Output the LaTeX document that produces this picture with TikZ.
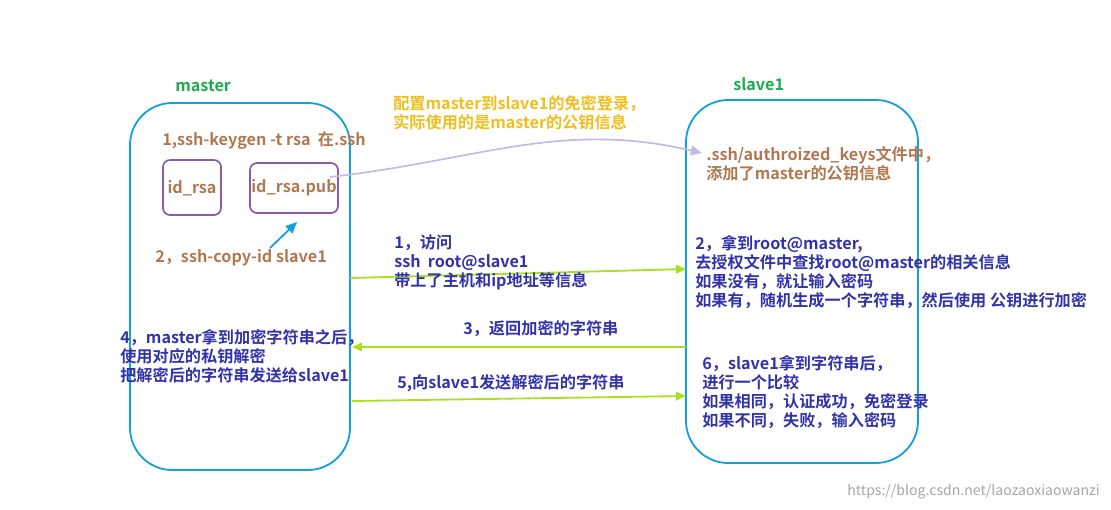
\documentclass[tikz,border=0pt]{standalone}
\usepackage{fontspec}
\setmainfont{Noto Sans CJK SC}[BoldFont={Noto Sans CJK SC Bold}]
\usetikzlibrary{arrows.meta}
\definecolor{hostblue}{RGB}{20,160,220}
\definecolor{hostgreen}{RGB}{30,170,80}
\definecolor{keybrown}{RGB}{176,120,80}
\definecolor{noteyellow}{RGB}{240,190,30}
\definecolor{stepblue}{RGB}{50,50,170}
\definecolor{flowgreen}{RGB}{170,225,30}
\definecolor{keypurple}{RGB}{140,90,170}
\definecolor{curvelav}{RGB}{195,185,230}
\tikzset{
  host/.style={draw=hostblue,line width=1.3pt,rounded corners=30pt},
  keybox/.style={draw=keypurple,line width=1.2pt,rounded corners=5pt},
  txt/.style={anchor=north west,align=left,inner sep=0pt,font=\bfseries\fontsize{11.5}{13.6}\selectfont},
  flow/.style={draw=flowgreen,line width=1.3pt,-{Triangle[length=7pt,width=6pt]}}
}
\begin{document}
\begin{tikzpicture}[x=0.025cm,y=-0.025cm]
     \useasboundingbox (0,0) rectangle (1111,509);
     % hosts
     \draw[host] (130,103) rectangle (350,470);
     \draw[host] (686,100) rectangle (918,463);
     \node[txt,text=hostgreen] (mtitle) at (175,80) {master};
     \node[txt,text=hostgreen] (stitle) at (733,77) {slave1};
     % keys
     \node[txt,text=keybrown] (keygen) at (162,131) {1,ssh-keygen -t rsa \ 在.ssh};
     \draw[keybox] (163,160) rectangle (221,215);
     \node[txt,text=keybrown,anchor=center] (idrsa) at (192,188) {id\_rsa};
     \draw[keybox] (250,163) rectangle (338,213);
     \node[txt,text=keybrown,anchor=center] (idpub) at (294,188) {id\_rsa.pub};
     \node[txt,text=keybrown] (copyid) at (155,249) {2，ssh-copy-id slave1};
     \draw[hostblue,line width=1.3pt,-{Triangle[length=8pt,width=7pt]}] (270,248)--(297,222);
     % public key note
     \node[txt,text=noteyellow] (note) at (393,95) {配置master到slave1的免密登录，\\实际使用的是master的公钥信息};
     \coordinate (pubend) at (330,177);
     \coordinate (authend) at (702,153);
     \draw[curvelav,line width=1.2pt,-{Triangle[length=8pt,width=7pt]}] (pubend) .. controls (480,160) and (560,120) .. (authend);
     \node[txt,text=keybrown] (auth) at (706,146) {.ssh/authroized\_keys文件中，\\添加了master的公钥信息};
     % flows
     \coordinate (a1) at (350,278); \coordinate (b1) at (686,269);
     \coordinate (a3) at (352,347); \coordinate (b3) at (686,347);
     \coordinate (a5) at (352,401); \coordinate (b5) at (686,396);
     \draw[flow] (a1)--(b1);
     \draw[flow] (b3)--(a3);
     \draw[flow] (a5)--(b5);
     \node[txt,text=stepblue] (s1) at (394,234) {1，访问\\ssh \ root@slave1\\带上了主机和ip地址等信息};
     \node[txt,text=stepblue] (s2) at (695,235) {2，拿到root@master,\\去授权文件中查找root@master的相关信息\\如果没有，就让输入密码\\如果有，随机生成一个字符串，然后使用 公钥进行加密};
     \node[txt,text=stepblue] (s3) at (463,320) {3，返回加密的字符串};
     \node[txt,text=stepblue] (s4) at (120,329) {4，master拿到加密字符串之后，\\使用对应的私钥解密\\把解密后的字符串发送给slave1};
     \node[txt,text=stepblue] (s5) at (397,374) {5,向slave1发送解密后的字符串};
     \node[txt,text=stepblue] (s6) at (702,355) {6，slave1拿到字符串后，\\进行一个比较\\如果相同，认证成功，免密登录\\如果不同，失败，输入密码};
     \node[anchor=east,inner sep=0pt,text=black!35,font=\fontsize{10}{12}\selectfont] (mark) at (1100,492) {https://blog.csdn.net/laozaoxiaowanzi};
\end{tikzpicture}
\end{document}
